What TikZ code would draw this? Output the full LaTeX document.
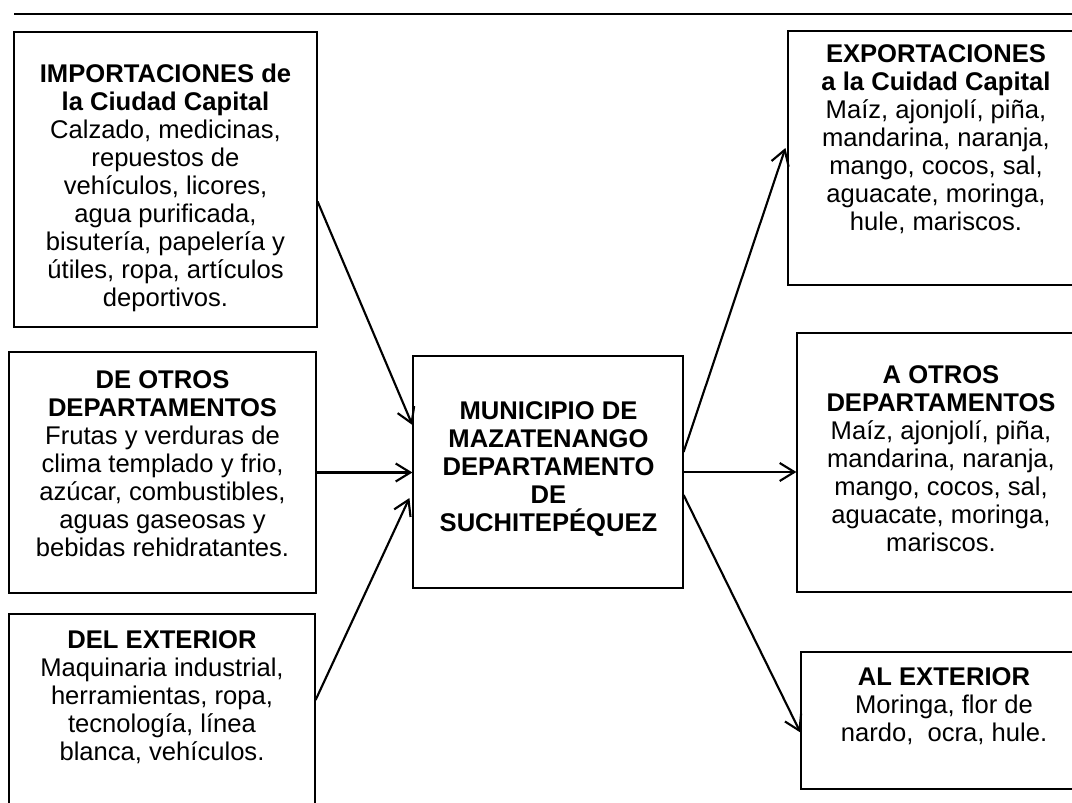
\documentclass[tikz,border=0pt]{standalone}
\usepackage{fontspec}
\setmainfont{Liberation Sans}
\usetikzlibrary{arrows.meta,fit,calc}
\begin{document}
\begin{tikzpicture}[x=0.75pt,y=-0.75pt,
  box/.style={draw, line width=0.9pt, inner sep=0pt},
  txt/.style={anchor=north, inner sep=0pt, align=center, font=\fontsize{19.2}{21}\selectfont},
  arr/.style={line width=1.6pt, -{Straight Barb[length=11pt,width=13.5pt,line width=1.6pt]}},
  rule/.style={line width=1.9pt}]
\fill[white] (0,0) rectangle (1072,803);
\useasboundingbox (0,0) rectangle (1072,803);
% top rule
\coordinate (ruleL) at (14,14);
\coordinate (ruleR) at (1080,14);
\draw[rule] (ruleL) -- (ruleR);
% boxes
\node[box, fit={(14,32) (317,327)}] (b1) {};
\node[box, fit={(9,352) (316,593)}] (b2) {};
\node[box, fit={(9,614) (315,840)}] (b3) {};
\node[box, fit={(413,356) (683,588)}] (c) {};
\node[box, fit={(788,31) (1085,285)}] (r1) {};
\node[box, fit={(797,333) (1085,592)}] (r2) {};
\node[box, fit={(801,652) (1085,789)}] (r3) {};
% texts
\node[txt] (t1) at (165.5,64) {\textbf{IMPORTACIONES de}\\ \textbf{la Ciudad Capital}\\ Calzado, medicinas,\\ repuestos de\\ vehículos, licores,\\ agua purificada,\\ bisutería, papelería y\\ útiles, ropa, artículos\\ deportivos.};
\node[txt] (t2) at (162.5,370) {\textbf{DE OTROS}\\ \textbf{DEPARTAMENTOS}\\ Frutas y verduras de\\ clima templado y frio,\\ azúcar, combustibles,\\ aguas gaseosas y\\ bebidas rehidratantes.};
\node[txt] (t3) at (162,630) {\textbf{DEL EXTERIOR}\\ Maquinaria industrial,\\ herramientas, ropa,\\ tecnología, línea\\ blanca, vehículos.};
\node[txt] (tc) at (548.5,401) {\textbf{MUNICIPIO DE}\\ \textbf{MAZATENANGO}\\ \textbf{DEPARTAMENTO}\\ \textbf{DE}\\ \textbf{SUCHITEPÉQUEZ}};
\node[txt] (tr1) at (936,44) {\textbf{EXPORTACIONES}\\ \textbf{a la Cuidad Capital}\\ Maíz, ajonjolí, piña,\\ mandarina, naranja,\\ mango, cocos, sal,\\ aguacate, moringa,\\ hule, mariscos.};
\node[txt] (tr2) at (941,365) {\textbf{A OTROS}\\ \textbf{DEPARTAMENTOS}\\ Maíz, ajonjolí, piña,\\ mandarina, naranja,\\ mango, cocos, sal,\\ aguacate, moringa,\\ mariscos.};
\node[txt] (tr3) at (944,667) {\textbf{AL EXTERIOR}\\ Moringa, flor de\\ nardo,\ \ ocra, hule.};
% arrows in
\draw[arr] ($(b1.east)+(0,22)$) -- ($(c.west)+(0,-47)$);
\draw[arr] (b2.east) -- (b2.east -| c.west);
\draw[arr] ($(b3.east)+(0,-27)$) -- ($(c.west)+(-3,26)$);
% arrows out
\draw[arr] ($(c.east)+(0,-20)$) -- ($(r1.west)+(-2,-10)$);
\draw[arr] (c.east) -- (c.east -| r2.west);
\draw[arr] ($(c.east)+(0,23)$) -- ($(r3.west)+(0,12)$);
\end{tikzpicture}
\end{document}
